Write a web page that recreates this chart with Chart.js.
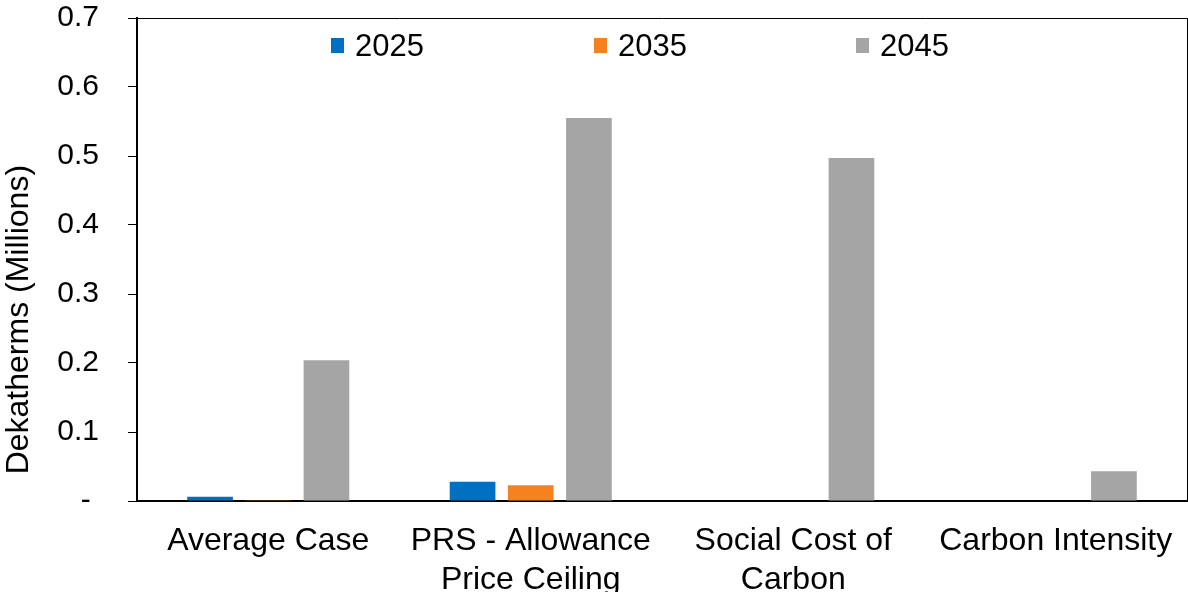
<!DOCTYPE html>
<html>
<head>
<meta charset="utf-8">
<script src="https://cdn.jsdelivr.net/npm/chart.js@4.4.1/dist/chart.umd.min.js"></script>
<style>
  body { margin: 0; background: #fff; }
  #wrap { position: relative; width: 1188px; height: 592px; }
  #legend { position: absolute; left: 0; top: 0; font-family: "Liberation Sans", Arial, sans-serif; font-size: 31px; color: #000; }
  #legend .item { position: absolute; top: 30px; white-space: nowrap; line-height: 31px; }
  #legend .box { position: absolute; left: -24px; top: 8px; width: 13px; height: 15px; }
</style>
</head>
<body>
<div id="wrap">
  <canvas id="chart"></canvas>
  <div id="legend"></div>
</div>
<script>
// --- data ---
const categories = ["Average Case", ["PRS - Allowance", "Price Ceiling"], ["Social Cost of", "Carbon"], "Carbon Intensity"];
const seriesNames = ["2025", "2035", "2045"];
const values2025 = [0.006, 0.028, 0, 0];
const values2035 = [0.001, 0.023, 0, 0];
const values2045 = [0.204, 0.555, 0.497, 0.043];
const yTicks = [0, 0.1, 0.2, 0.3, 0.4, 0.5, 0.6, 0.7];

const colors = ["#0070C0", "#F5821F", "#A5A5A5"];
const font = "'Liberation Sans', Arial, sans-serif";

const datasets = [values2025, values2035, values2045].map((vals, i) => ({
  label: seriesNames[i],
  data: vals,
  backgroundColor: colors[i],
  borderWidth: 0,
  categoryPercentage: 0.665,
  barPercentage: 0.785
}));

// legend drawn as html over the plot, like the original
const legendLeft = [355, 618, 880];
const htmlLegend = {
  id: "htmlLegend",
  afterUpdate(chart) {
    const box = document.getElementById("legend");
    box.innerHTML = "";
    chart.data.datasets.forEach((ds, i) => {
      const item = document.createElement("div");
      item.className = "item";
      item.style.left = legendLeft[i] + "px";
      const sw = document.createElement("span");
      sw.className = "box";
      sw.style.background = ds.backgroundColor;
      item.appendChild(sw);
      item.appendChild(document.createTextNode(ds.label));
      box.appendChild(item);
    });
  }
};

new Chart(document.getElementById("chart"), {
  type: "bar",
  data: { labels: categories, datasets },
  plugins: [htmlLegend],
  options: {
    responsive: true,
    maintainAspectRatio: false,
    animation: false,
    layout: { padding: { top: 18, right: 1, left: 0, bottom: 0 } },
    plugins: {
      legend: { display: false },
      tooltip: { enabled: false }
    },
    scales: {
      x: {
        grid: { display: false },
        border: { display: true, color: "#000", width: 2 },
        ticks: { color: "#000", font: { family: font, size: 32, lineHeight: 1.22 }, padding: 13, maxRotation: 0, autoSkip: false },
        afterFit: s => { s.height = 91; s.paddingLeft = 0; s.paddingRight = 0; }
      },
      xTop: {
        position: "top",
        grid: { display: false },
        border: { display: true, color: "#000", width: 1 },
        ticks: { display: false },
        afterFit: s => { s.height = 0; }
      },
      y: {
        min: 0,
        max: 0.7,
        afterBuildTicks: s => { s.ticks = yTicks.map(v => ({ value: v })); },
        grid: { drawOnChartArea: false, drawTicks: true, tickLength: 9, color: "#000", lineWidth: 1 },
        border: { display: true, color: "#000", width: 2 },
        ticks: {
          color: "#000",
          font: { family: font, size: 30 },
          padding: 29,
          callback: v => v === 0 ? "- " : v.toFixed(1)
        },
        title: {
          display: true,
          text: "   Dekatherms (Millions)",
          align: "start",
          color: "#000",
          font: { family: font, size: 32 },
          padding: 0
        },
        afterFit: s => { s.width = 137; s.paddingTop = 0; s.paddingBottom = 0; }
      },
      yRight: {
        position: "right",
        grid: { display: false },
        border: { display: true, color: "#000", width: 1 },
        ticks: { display: false },
        afterFit: s => { s.width = 0; }
      }
    }
  }
});
</script>
</body>
</html>
